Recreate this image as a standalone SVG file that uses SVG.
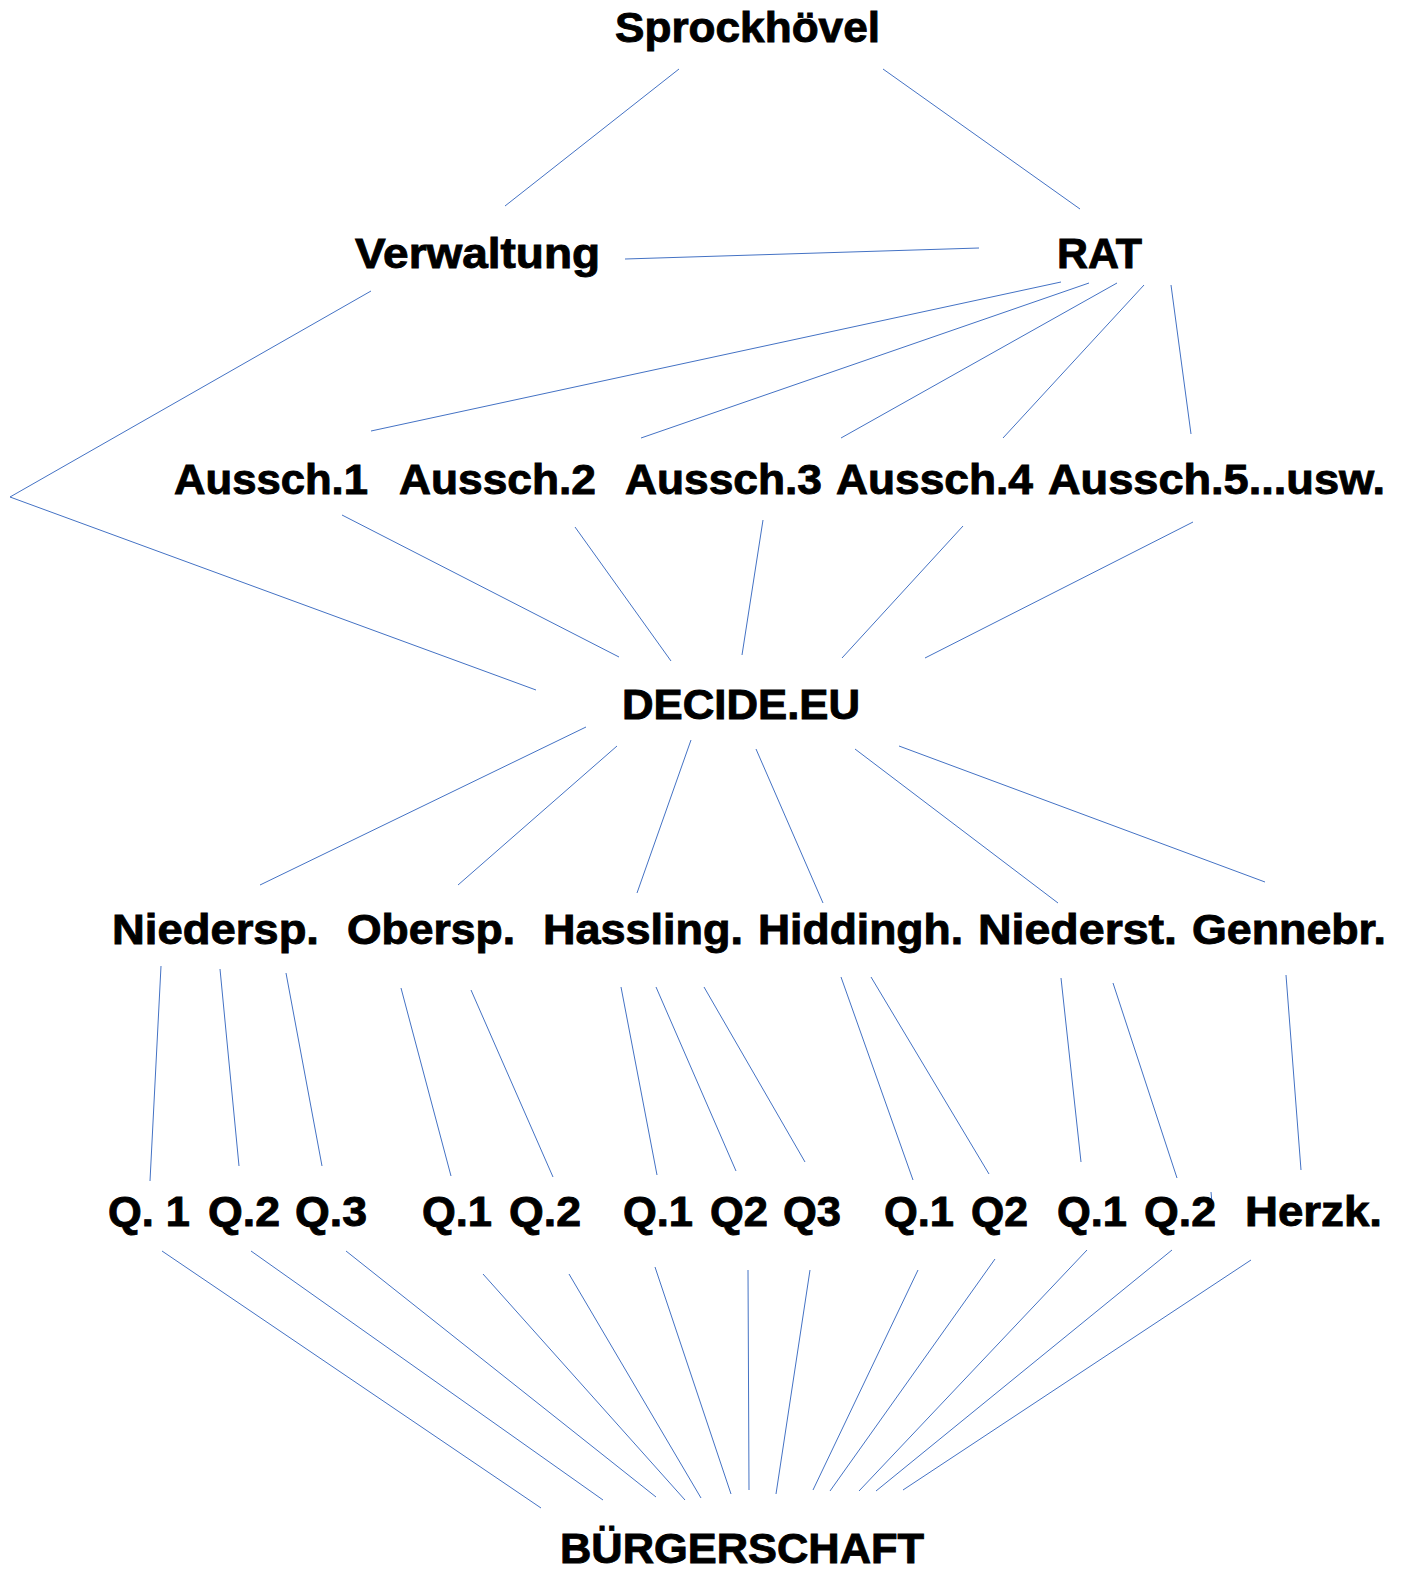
<svg xmlns="http://www.w3.org/2000/svg" width="1402" height="1569" viewBox="0 0 1402 1569">
<style>
text{font-family:"Liberation Sans",Arial,sans-serif;font-weight:bold;font-size:42px;fill:#000;stroke:#000;stroke-width:0.9}
.c line,.c polyline{stroke:#4472C4;stroke-width:1;fill:none}
</style>
<rect width="1402" height="1569" fill="#fff"/>
<g class="c" id="connectors">
<line x1="679" y1="69" x2="505" y2="206"/>
<line x1="883" y1="69" x2="1080" y2="209"/>
<line x1="625" y1="259" x2="979" y2="248"/>
<polyline points="371,291 10,497 536,690"/>
<line x1="1061" y1="282" x2="371" y2="431"/>
<line x1="1089" y1="283" x2="641" y2="438"/>
<line x1="1117" y1="283" x2="841" y2="438"/>
<line x1="1144" y1="285" x2="1003" y2="438"/>
<line x1="1171" y1="285" x2="1191" y2="434"/>
<line x1="342" y1="515" x2="619" y2="657"/>
<line x1="575" y1="527" x2="671" y2="661"/>
<line x1="763" y1="520" x2="742" y2="655"/>
<line x1="963" y1="526" x2="842" y2="658"/>
<line x1="1193" y1="522" x2="925" y2="658"/>
<line x1="586" y1="727" x2="260" y2="885"/>
<line x1="617" y1="746" x2="458" y2="885"/>
<line x1="691" y1="740" x2="637" y2="893"/>
<line x1="756" y1="749" x2="823" y2="903"/>
<line x1="855" y1="749" x2="1058" y2="903"/>
<line x1="899" y1="746" x2="1265" y2="882"/>
<line x1="161" y1="966" x2="150" y2="1181"/>
<line x1="220" y1="969" x2="239" y2="1166"/>
<line x1="286" y1="973" x2="322" y2="1166"/>
<line x1="401" y1="988" x2="451" y2="1176"/>
<line x1="471" y1="990" x2="553" y2="1177"/>
<line x1="621" y1="987" x2="657" y2="1175"/>
<line x1="656" y1="987" x2="736" y2="1171"/>
<line x1="704" y1="987" x2="805" y2="1162"/>
<line x1="841" y1="977" x2="913" y2="1180"/>
<line x1="871" y1="977" x2="989" y2="1174"/>
<line x1="1061" y1="978" x2="1081" y2="1162"/>
<line x1="1113" y1="983" x2="1177" y2="1178"/>
<line x1="1286" y1="975" x2="1301" y2="1170"/>
<line x1="1211" y1="1192" x2="1212" y2="1203"/>
<line x1="162" y1="1251" x2="541" y2="1508"/>
<line x1="251" y1="1251" x2="603" y2="1500"/>
<line x1="346" y1="1251" x2="656" y2="1497"/>
<line x1="483" y1="1274" x2="685" y2="1500"/>
<line x1="569" y1="1274" x2="701" y2="1498"/>
<line x1="655" y1="1267" x2="731" y2="1494"/>
<line x1="748" y1="1270" x2="749" y2="1490"/>
<line x1="810" y1="1270" x2="776" y2="1494"/>
<line x1="918" y1="1270" x2="813" y2="1490"/>
<line x1="995" y1="1259" x2="830" y2="1491"/>
<line x1="1087" y1="1250" x2="859" y2="1491"/>
<line x1="1172" y1="1250" x2="876" y2="1491"/>
<line x1="1251" y1="1260" x2="903" y2="1490"/>
</g>
<g id="n-sprockhoevel"><text x="615" y="42" textLength="265" lengthAdjust="spacingAndGlyphs">Sprockhövel</text></g>
<g id="n-verwaltung"><text x="355" y="268" textLength="245" lengthAdjust="spacingAndGlyphs">Verwaltung</text></g>
<g id="n-rat"><text x="1057" y="268" textLength="85" lengthAdjust="spacingAndGlyphs">RAT</text></g>
<g id="n-aussch1"><text x="174" y="494" textLength="194" lengthAdjust="spacingAndGlyphs">Aussch.1</text></g>
<g id="n-aussch2"><text x="399" y="494" textLength="197" lengthAdjust="spacingAndGlyphs">Aussch.2</text></g>
<g id="n-aussch3"><text x="625" y="494" textLength="197" lengthAdjust="spacingAndGlyphs">Aussch.3</text></g>
<g id="n-aussch4"><text x="836" y="494" textLength="197" lengthAdjust="spacingAndGlyphs">Aussch.4</text></g>
<g id="n-aussch5"><text x="1048" y="494" textLength="337" lengthAdjust="spacingAndGlyphs">Aussch.5...usw.</text></g>
<g id="n-decide"><text x="622" y="719" textLength="238" lengthAdjust="spacingAndGlyphs">DECIDE.EU</text></g>
<g id="n-niedersp"><text x="112" y="944" textLength="207" lengthAdjust="spacingAndGlyphs">Niedersp.</text></g>
<g id="n-obersp"><text x="347" y="944" textLength="168" lengthAdjust="spacingAndGlyphs">Obersp.</text></g>
<g id="n-hassling"><text x="543" y="944" textLength="200" lengthAdjust="spacingAndGlyphs">Hassling.</text></g>
<g id="n-hiddingh"><text x="758" y="944" textLength="205" lengthAdjust="spacingAndGlyphs">Hiddingh.</text></g>
<g id="n-niederst"><text x="978" y="944" textLength="199" lengthAdjust="spacingAndGlyphs">Niederst.</text></g>
<g id="n-gennebr"><text x="1192" y="944" textLength="194" lengthAdjust="spacingAndGlyphs">Gennebr.</text></g>
<g id="n-q-nsp1"><text x="108" y="1226" textLength="82" lengthAdjust="spacingAndGlyphs">Q. 1</text></g>
<g id="n-q-nsp2"><text x="208" y="1226" textLength="72" lengthAdjust="spacingAndGlyphs">Q.2</text></g>
<g id="n-q-nsp3"><text x="295" y="1226" textLength="72" lengthAdjust="spacingAndGlyphs">Q.3</text></g>
<g id="n-q-osp1"><text x="422" y="1226" textLength="70" lengthAdjust="spacingAndGlyphs">Q.1</text></g>
<g id="n-q-osp2"><text x="509" y="1226" textLength="72" lengthAdjust="spacingAndGlyphs">Q.2</text></g>
<g id="n-q-has1"><text x="623" y="1226" textLength="70" lengthAdjust="spacingAndGlyphs">Q.1</text></g>
<g id="n-q-has2"><text x="710" y="1226" textLength="58" lengthAdjust="spacingAndGlyphs">Q2</text></g>
<g id="n-q-has3"><text x="783" y="1226" textLength="58" lengthAdjust="spacingAndGlyphs">Q3</text></g>
<g id="n-q-hid1"><text x="884" y="1226" textLength="70" lengthAdjust="spacingAndGlyphs">Q.1</text></g>
<g id="n-q-hid2"><text x="971" y="1226" textLength="57" lengthAdjust="spacingAndGlyphs">Q2</text></g>
<g id="n-q-nst1"><text x="1057" y="1226" textLength="70" lengthAdjust="spacingAndGlyphs">Q.1</text></g>
<g id="n-q-nst2"><text x="1144" y="1226" textLength="72" lengthAdjust="spacingAndGlyphs">Q.2</text></g>
<g id="n-herzk"><text x="1245" y="1226" textLength="137" lengthAdjust="spacingAndGlyphs">Herzk.</text></g>
<g id="n-buergerschaft"><text x="560" y="1563" textLength="364" lengthAdjust="spacingAndGlyphs">BÜRGERSCHAFT</text></g>
</svg>
